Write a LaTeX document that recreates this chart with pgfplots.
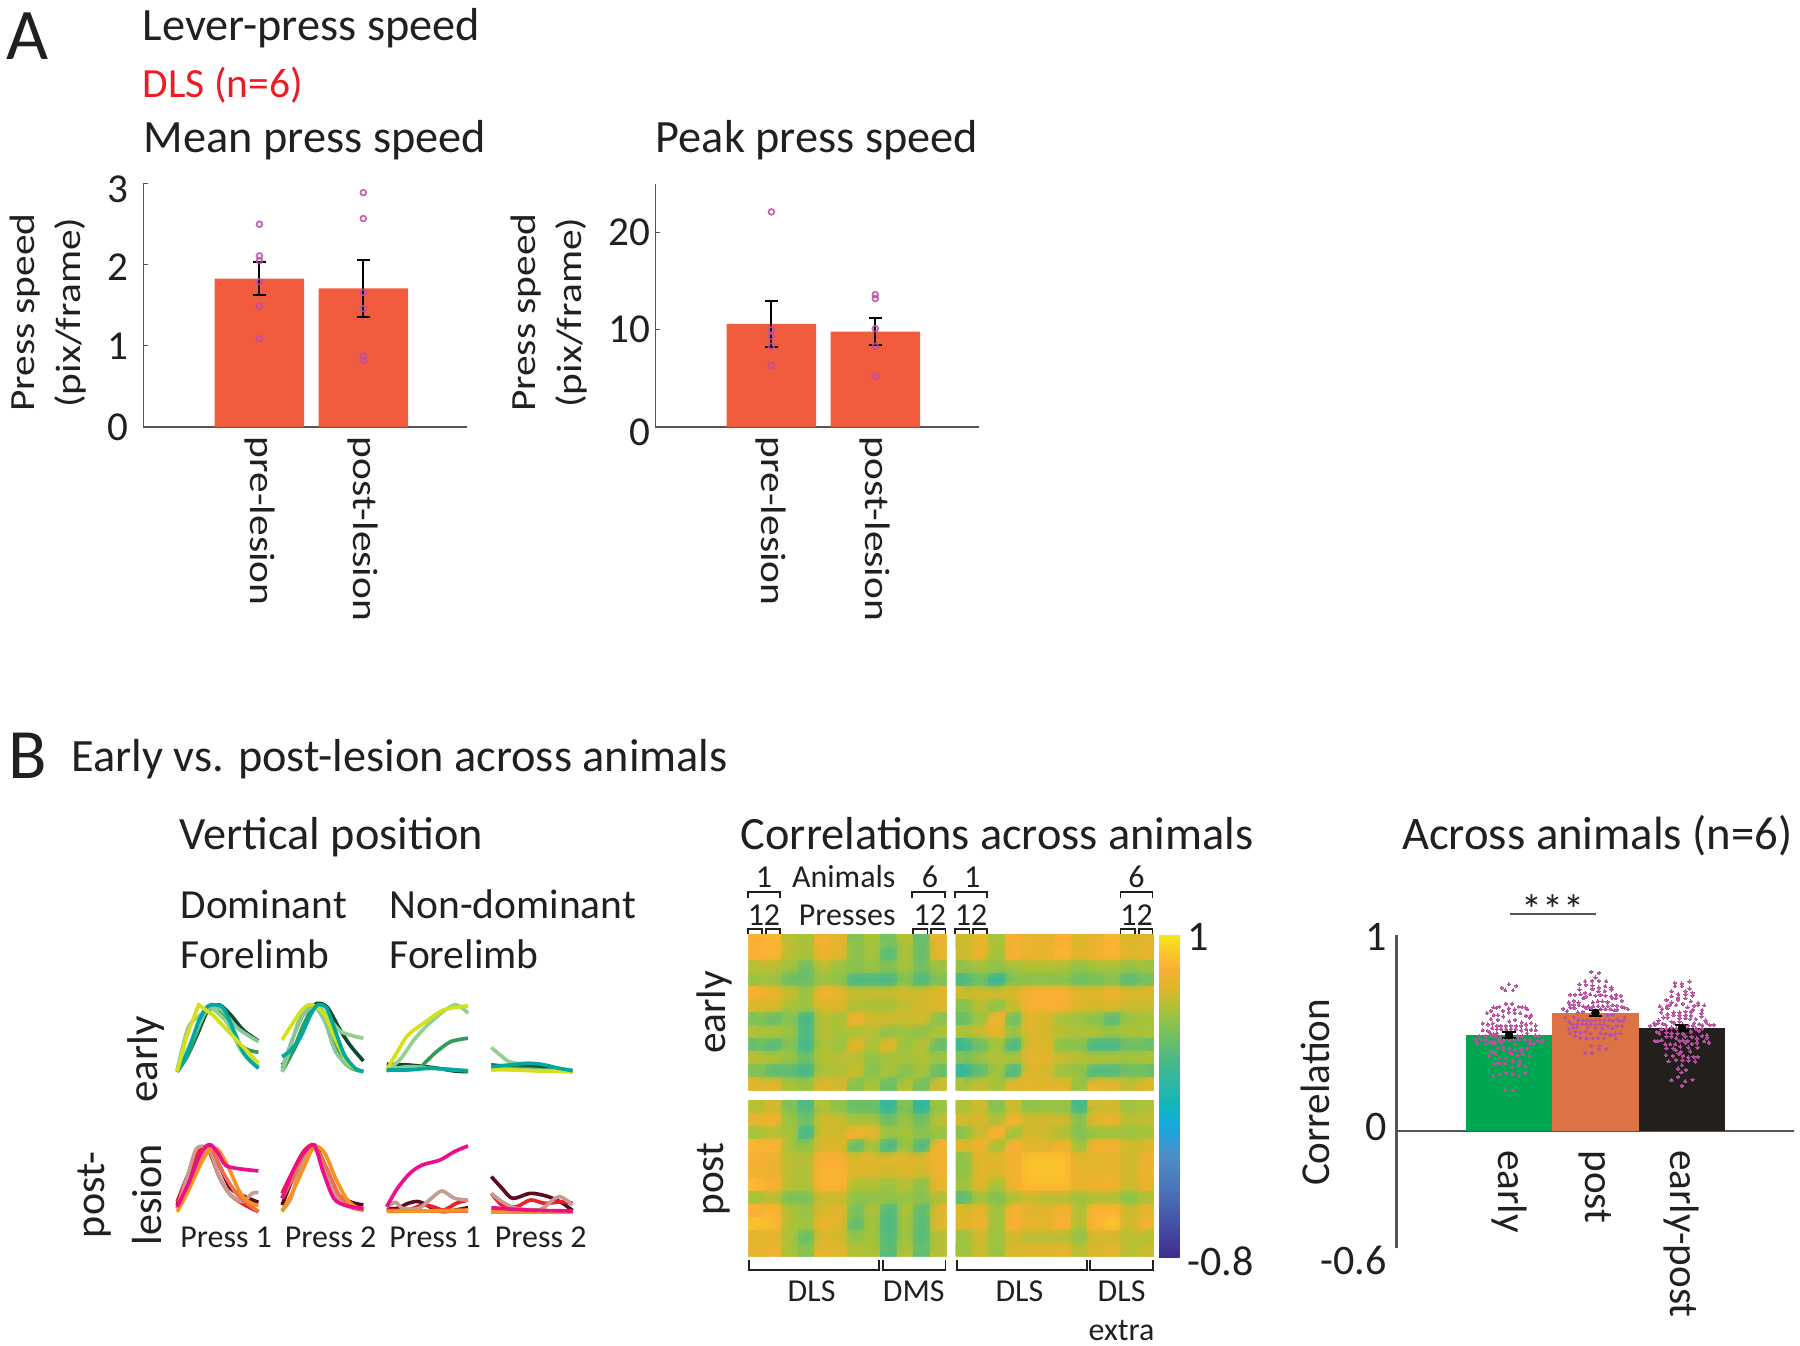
\documentclass[border=0pt]{standalone}
\usepackage{pgfplots}
\usepackage{pgfplotstable}
\usepackage{fontspec}
\setmainfont{Carlito}
\pgfplotsset{compat=1.18}
\definecolor{txt}{HTML}{231F20}
\definecolor{axl}{HTML}{555555}
\definecolor{barred}{HTML}{F15C3F}
\definecolor{dotp}{HTML}{BC4FA8}
\definecolor{swarmc}{HTML}{B8529F}
\definecolor{e1}{HTML}{0C4A2A}\definecolor{e2}{HTML}{2E9E57}\definecolor{e3}{HTML}{93CF8F}
\definecolor{e4}{HTML}{86C79A}\definecolor{e5}{HTML}{00A8A0}\definecolor{e6}{HTML}{D4E01A}
\definecolor{p1}{HTML}{5C0B20}\definecolor{p2}{HTML}{ED2024}\definecolor{p3}{HTML}{C79A92}
\definecolor{p4}{HTML}{F26D50}\definecolor{p5}{HTML}{F7941E}\definecolor{p6}{HTML}{EC0F8C}
\newcommand{\wide}[1]{\scalebox{1.17}[1]{#1}}
\newcommand{\fs}[1]{\fontsize{#1}{#1}\selectfont}
\newcommand{\low}[2]{\raisebox{#1}[\height][\depth]{#2}}
\newcommand{\T}[4]{\node[anchor=base west,inner sep=0pt,text=txt] at (#1*0.6pt,-#2*0.6pt) {\fs{#3}#4};}
\newcommand{\TC}[4]{\node[anchor=base,inner sep=0pt,text=txt] at (#1*0.6pt,-#2*0.6pt) {\fs{#3}#4};}
\newcommand{\TR}[4]{\node[anchor=center,rotate=90,inner sep=0pt,text=txt] at (#1*0.6pt,-#2*0.6pt) {\fs{#3}#4};}
\newcommand{\brd}[3]{\draw[line width=0.9pt,color=txt] (#1*0.6pt,-#3*0.6pt-3pt) -- ++(0,3pt) -- (#2*0.6pt,-#3*0.6pt) -- ++(0,-3pt);}
\newcommand{\bru}[3]{\draw[line width=0.9pt,color=txt] (#1*0.6pt,-#3*0.6pt+5pt) -- ++(0,-5pt) -- (#2*0.6pt,-#3*0.6pt) -- ++(0,5pt);}
\pgfplotsset{
  barax/.style={scale only axis,width=169.2pt,height=127.2pt,anchor=south west,
    axis lines=left,axis line style={-,draw=axl,line width=1pt},enlargelimits=false,
    xmin=-0.116,xmax=3.0,xtick={1,2},xticklabels={\wide{pre-lesion},\wide{post-lesion}},
    tick align=inside,tick style={draw=axl,line width=0.6pt},major tick length=2.5pt,
    xticklabel style={rotate=-90,anchor=west,inner sep=0pt,font=\fs{18.5},text=txt},
    xticklabel shift=5pt,
    yticklabel style={font=\fs{21.5},text=txt,inner sep=0pt},
    ymin=0,clip=false,every axis title shift=0pt},
  redbar/.style={ybar,bar shift=0pt,bar width=0.862,fill=barred,draw=none,
    error bars/.cd,y dir=both,y explicit,error bar style={black,line width=1pt},
    error mark options={rotate=90,black,mark size=3.3pt,line width=1pt}},
  opendots/.style={only marks,mark=o,mark size=1.5pt,mark options={draw=dotp,line width=0.95pt,draw opacity=0.85}},
  mini/.style={scale only axis,width=42.5pt,height=34.9pt,anchor=south west,hide axis,
    xmin=0,xmax=228,ymin=0,ymax=200,clip=false,every axis plot/.append style={line width=1.9pt,smooth,no marks,tension=0.5}},
  heat/.style={scale only axis,width=103.6pt,height=81.6pt,anchor=south west,hide axis,
    xmin=-0.5,xmax=11.5,ymin=-0.5,ymax=11.5,y dir=reverse,enlargelimits=false,
    colormap={hm}{rgb255(0cm)=(61,45,145);rgb255(0.32cm)=(74,105,178);rgb255(0.56cm)=(78,141,201);
      rgb255(0.73cm)=(26,167,223);rgb255(0.84cm)=(16,181,192);rgb255(1.08cm)=(69,184,140);
      rgb255(1.25cm)=(118,193,95);rgb255(1.38cm)=(166,195,58);rgb255(1.5cm)=(220,183,42);
      rgb255(1.62cm)=(251,176,52);rgb255(1.8cm)=(245,230,28)},
    point meta min=-0.8,point meta max=1},
  hplot/.style={matrix plot*,mesh/cols=12,point meta=explicit},
  hsoft/.style={surf,shader=interp,mesh/cols=12,point meta=explicit,opacity=0.55},
  table/htab/.style={x index=0,y index=0,x expr={mod(\coordindex,12)},y expr={floor((\coordindex+0.5)/12)},meta index=0},
  swarm/.style={only marks,mark=*,mark size=0.85pt,color=swarmc,mark options={fill=swarmc,draw=swarmc,line width=0pt}}
}
\newcommand{\mini}[3]{\begin{axis}[mini,at={(#1*0.6pt,-#2*0.6pt)}]#3\end{axis}}
% correlation matrices, row after row, 12 columns each
\pgfplotstableread[row sep=\\,header=false]{
0.82\\ 0.84\\ 0.62\\ 0.58\\ 0.78\\ 0.72\\ 0.50\\ 0.58\\ 0.45\\ 0.60\\ 0.40\\ 0.75\\
0.82\\ 0.84\\ 0.62\\ 0.58\\ 0.78\\ 0.72\\ 0.50\\ 0.58\\ 0.35\\ 0.60\\ 0.38\\ 0.75\\
0.62\\ 0.62\\ 0.55\\ 0.42\\ 0.62\\ 0.55\\ 0.50\\ 0.55\\ 0.48\\ 0.58\\ 0.42\\ 0.55\\
0.55\\ 0.55\\ 0.42\\ 0.42\\ 0.55\\ 0.52\\ 0.30\\ 0.32\\ 0.30\\ 0.50\\ 0.32\\ 0.48\\
0.80\\ 0.76\\ 0.66\\ 0.55\\ 0.80\\ 0.74\\ 0.65\\ 0.66\\ 0.66\\ 0.68\\ 0.68\\ 0.72\\
0.70\\ 0.70\\ 0.58\\ 0.55\\ 0.70\\ 0.70\\ 0.60\\ 0.58\\ 0.58\\ 0.65\\ 0.68\\ 0.70\\
0.48\\ 0.40\\ 0.50\\ 0.28\\ 0.62\\ 0.58\\ 0.78\\ 0.68\\ 0.68\\ 0.66\\ 0.68\\ 0.52\\
0.60\\ 0.60\\ 0.55\\ 0.30\\ 0.62\\ 0.58\\ 0.60\\ 0.62\\ 0.52\\ 0.55\\ 0.52\\ 0.60\\
0.42\\ 0.35\\ 0.50\\ 0.27\\ 0.60\\ 0.55\\ 0.72\\ 0.60\\ 0.72\\ 0.55\\ 0.62\\ 0.42\\
0.62\\ 0.60\\ 0.55\\ 0.42\\ 0.62\\ 0.62\\ 0.62\\ 0.52\\ 0.58\\ 0.58\\ 0.60\\ 0.55\\
0.48\\ 0.36\\ 0.36\\ 0.28\\ 0.60\\ 0.60\\ 0.66\\ 0.50\\ 0.58\\ 0.50\\ 0.58\\ 0.42\\
0.72\\ 0.72\\ 0.58\\ 0.55\\ 0.70\\ 0.68\\ 0.50\\ 0.58\\ 0.42\\ 0.60\\ 0.45\\ 0.66\\
}\hma
\pgfplotstableread[row sep=\\,header=false]{
0.66\\ 0.74\\ 0.58\\ 0.80\\ 0.76\\ 0.74\\ 0.82\\ 0.70\\ 0.76\\ 0.84\\ 0.70\\ 0.72\\
0.66\\ 0.76\\ 0.56\\ 0.82\\ 0.76\\ 0.76\\ 0.84\\ 0.72\\ 0.78\\ 0.84\\ 0.72\\ 0.74\\
0.52\\ 0.56\\ 0.52\\ 0.56\\ 0.60\\ 0.60\\ 0.58\\ 0.52\\ 0.56\\ 0.58\\ 0.52\\ 0.55\\
0.32\\ 0.42\\ 0.22\\ 0.50\\ 0.50\\ 0.50\\ 0.50\\ 0.42\\ 0.45\\ 0.50\\ 0.36\\ 0.45\\
0.66\\ 0.68\\ 0.68\\ 0.70\\ 0.82\\ 0.82\\ 0.82\\ 0.72\\ 0.72\\ 0.78\\ 0.70\\ 0.70\\
0.50\\ 0.62\\ 0.52\\ 0.66\\ 0.80\\ 0.80\\ 0.80\\ 0.70\\ 0.68\\ 0.70\\ 0.66\\ 0.66\\
0.42\\ 0.56\\ 0.80\\ 0.42\\ 0.72\\ 0.68\\ 0.58\\ 0.55\\ 0.50\\ 0.36\\ 0.55\\ 0.58\\
0.60\\ 0.66\\ 0.74\\ 0.55\\ 0.72\\ 0.68\\ 0.62\\ 0.60\\ 0.60\\ 0.55\\ 0.60\\ 0.58\\
0.26\\ 0.42\\ 0.58\\ 0.30\\ 0.70\\ 0.70\\ 0.50\\ 0.50\\ 0.30\\ 0.30\\ 0.42\\ 0.42\\
0.48\\ 0.55\\ 0.62\\ 0.58\\ 0.74\\ 0.72\\ 0.66\\ 0.62\\ 0.60\\ 0.60\\ 0.58\\ 0.58\\
0.22\\ 0.38\\ 0.56\\ 0.30\\ 0.72\\ 0.68\\ 0.55\\ 0.52\\ 0.32\\ 0.32\\ 0.42\\ 0.42\\
0.58\\ 0.64\\ 0.58\\ 0.72\\ 0.72\\ 0.72\\ 0.72\\ 0.55\\ 0.74\\ 0.72\\ 0.64\\ 0.70\\
}\hmb
\pgfplotstableread[row sep=\\,header=false]{
0.62\\ 0.68\\ 0.48\\ 0.32\\ 0.60\\ 0.52\\ 0.42\\ 0.42\\ 0.22\\ 0.48\\ 0.20\\ 0.55\\
0.74\\ 0.78\\ 0.55\\ 0.42\\ 0.68\\ 0.66\\ 0.58\\ 0.58\\ 0.42\\ 0.55\\ 0.42\\ 0.62\\
0.58\\ 0.62\\ 0.58\\ 0.28\\ 0.68\\ 0.68\\ 0.80\\ 0.74\\ 0.55\\ 0.58\\ 0.50\\ 0.55\\
0.84\\ 0.84\\ 0.58\\ 0.52\\ 0.70\\ 0.70\\ 0.38\\ 0.58\\ 0.30\\ 0.55\\ 0.32\\ 0.78\\
0.80\\ 0.76\\ 0.62\\ 0.62\\ 0.82\\ 0.82\\ 0.70\\ 0.72\\ 0.72\\ 0.72\\ 0.70\\ 0.78\\
0.78\\ 0.76\\ 0.62\\ 0.60\\ 0.83\\ 0.83\\ 0.70\\ 0.70\\ 0.68\\ 0.70\\ 0.68\\ 0.78\\
0.85\\ 0.82\\ 0.62\\ 0.60\\ 0.83\\ 0.83\\ 0.60\\ 0.60\\ 0.55\\ 0.62\\ 0.50\\ 0.75\\
0.58\\ 0.62\\ 0.46\\ 0.46\\ 0.66\\ 0.66\\ 0.52\\ 0.52\\ 0.52\\ 0.55\\ 0.50\\ 0.60\\
0.82\\ 0.84\\ 0.60\\ 0.55\\ 0.70\\ 0.72\\ 0.45\\ 0.60\\ 0.32\\ 0.60\\ 0.36\\ 0.72\\
0.88\\ 0.86\\ 0.60\\ 0.56\\ 0.76\\ 0.72\\ 0.38\\ 0.58\\ 0.30\\ 0.58\\ 0.34\\ 0.72\\
0.72\\ 0.74\\ 0.58\\ 0.40\\ 0.70\\ 0.68\\ 0.52\\ 0.58\\ 0.32\\ 0.58\\ 0.34\\ 0.62\\
0.74\\ 0.78\\ 0.58\\ 0.50\\ 0.74\\ 0.72\\ 0.60\\ 0.60\\ 0.34\\ 0.60\\ 0.38\\ 0.62\\
}\hmc
\pgfplotstableread[row sep=\\,header=false]{
0.60\\ 0.66\\ 0.50\\ 0.66\\ 0.52\\ 0.54\\ 0.54\\ 0.30\\ 0.66\\ 0.68\\ 0.56\\ 0.60\\
0.68\\ 0.70\\ 0.60\\ 0.78\\ 0.68\\ 0.68\\ 0.68\\ 0.50\\ 0.72\\ 0.76\\ 0.62\\ 0.64\\
0.52\\ 0.66\\ 0.82\\ 0.56\\ 0.68\\ 0.66\\ 0.60\\ 0.48\\ 0.55\\ 0.56\\ 0.55\\ 0.58\\
0.70\\ 0.78\\ 0.58\\ 0.82\\ 0.72\\ 0.72\\ 0.78\\ 0.56\\ 0.80\\ 0.80\\ 0.68\\ 0.70\\
0.52\\ 0.72\\ 0.72\\ 0.78\\ 0.88\\ 0.88\\ 0.88\\ 0.72\\ 0.72\\ 0.74\\ 0.66\\ 0.76\\
0.52\\ 0.72\\ 0.70\\ 0.80\\ 0.88\\ 0.88\\ 0.88\\ 0.74\\ 0.74\\ 0.76\\ 0.66\\ 0.76\\
0.56\\ 0.72\\ 0.58\\ 0.78\\ 0.86\\ 0.86\\ 0.86\\ 0.74\\ 0.78\\ 0.78\\ 0.66\\ 0.74\\
0.38\\ 0.56\\ 0.48\\ 0.60\\ 0.66\\ 0.62\\ 0.62\\ 0.55\\ 0.60\\ 0.60\\ 0.50\\ 0.60\\
0.70\\ 0.76\\ 0.55\\ 0.82\\ 0.72\\ 0.72\\ 0.80\\ 0.60\\ 0.84\\ 0.84\\ 0.66\\ 0.74\\
0.72\\ 0.78\\ 0.55\\ 0.82\\ 0.74\\ 0.74\\ 0.82\\ 0.60\\ 0.84\\ 0.90\\ 0.66\\ 0.78\\
0.56\\ 0.68\\ 0.55\\ 0.68\\ 0.62\\ 0.62\\ 0.62\\ 0.52\\ 0.68\\ 0.68\\ 0.62\\ 0.62\\
0.56\\ 0.66\\ 0.55\\ 0.70\\ 0.72\\ 0.72\\ 0.74\\ 0.62\\ 0.70\\ 0.74\\ 0.62\\ 0.66\\
}\hmd
% swarm points as read in the reference, in zoomed image pixels: column, row
\pgfplotstableread[row sep=\\,header=false]{
146 66\\ 168 71\\ 124 77\\ 135 84\\ 158 84\\ 137 124\\ 155 124\\ 99 135\\ 108 136\\ 117 133\\ 175 133\\ 185 135\\ 195 135\\ 201 140\\ 145 138\\ 128 145\\ 92 145\\ 80 152\\ 146 150\\ 163 141\\ 163 152\\ 180 152\\ 113 158\\ 100 158\\ 129 162\\ 197 160\\ 212 159\\ 208 165\\
92 170\\ 112 172\\ 147 177\\ 165 172\\ 184 180\\ 67 183\\ 83 186\\ 97 183\\ 197 186\\ 212 182\\ 226 189\\ 110 190\\ 122 190\\ 136 190\\ 151 190\\ 168 190\\ 183 190\\
67 203\\ 82 205\\ 96 197\\ 110 200\\ 123 200\\ 138 200\\ 152 200\\ 166 200\\ 198 200\\ 212 202\\ 226 203\\ 183 204\\ 90 212\\ 100 215\\ 110 212\\ 200 212\\ 58 222\\ 76 222\\ 92 220\\ 106 222\\ 120 225\\ 172 222\\ 225 219\\ 236 221\\ 186 222\\
46 230\\ 64 232\\ 78 232\\ 90 238\\ 50 240\\ 76 243\\ 96 242\\ 104 240\\ 115 233\\ 130 233\\ 145 232\\ 160 232\\ 175 232\\ 195 232\\ 210 232\\ 232 235\\ 248 232\\ 208 242\\ 222 244\\ 244 240\\ 165 245\\ 122 240\\
100 267\\ 129 253\\ 147 257\\ 182 256\\ 201 259\\ 113 257\\ 129 262\\ 165 262\\ 183 265\\ 92 267\\ 105 272\\ 150 270\\ 155 274\\ 172 278\\ 189 275\\ 86 280\\ 208 280\\
118 287\\ 137 287\\ 113 300\\ 100 303\\ 135 302\\ 157 295\\ 180 295\\ 176 304\\ 118 302\\ 155 314\\ 175 308\\ 195 312\\ 137 331\\ 118 335\\ 99 339\\ 157 335\\ 175 339\\ 195 331\\ 135 382\\ 158 382\\
}\swearly
\pgfplotstableread[row sep=\\,header=false]{
123 29\\ 146 32\\ 135 46\\ 104 57\\ 125 56\\ 145 56\\ 167 57\\ 87 66\\ 106 68\\ 126 70\\ 145 76\\ 164 72\\ 183 75\\ 87 82\\ 126 80\\ 144 87\\ 163 87\\ 183 82\\
59 97\\ 74 97\\ 90 96\\ 104 92\\ 119 96\\ 135 100\\ 150 98\\ 165 100\\ 182 102\\ 197 98\\ 211 100\\ 107 103\\ 98 108\\ 196 108\\ 185 107\\
70 115\\ 55 120\\ 84 120\\ 127 120\\ 142 117\\ 156 117\\ 171 119\\ 214 115\\ 199 130\\ 58 127\\ 70 127\\ 85 128\\ 99 132\\ 113 132\\ 128 132\\ 143 131\\ 157 131\\ 172 131\\ 186 128\\ 214 133\\ 222 136\\ 232 140\\ 38 139\\ 60 136\\ 72 137\\ 108 137\\ 122 138\\ 200 142\\ 192 144\\ 50 146\\ 82 150\\ 97 148\\ 180 140\\ 165 140\\ 150 140\\
186 157\\ 171 158\\ 45 165\\ 70 164\\ 224 164\\ 200 170\\ 55 176\\ 84 173\\ 98 173\\ 110 173\\ 122 175\\ 135 173\\ 148 173\\ 162 173\\ 176 173\\ 188 175\\ 205 175\\ 217 175\\ 60 182\\ 68 185\\ 80 185\\ 95 185\\ 108 185\\ 122 185\\ 135 187\\ 148 185\\ 160 185\\ 172 190\\ 200 190\\ 214 190\\ 68 195\\ 80 195\\ 112 195\\ 135 195\\ 155 198\\ 186 197\\ 55 199\\
75 208\\ 90 210\\ 105 208\\ 120 214\\ 150 212\\ 165 214\\ 180 215\\ 195 213\\ 210 212\\ 59 212\\ 74 220\\ 90 226\\ 108 227\\ 128 227\\ 143 227\\ 160 227\\ 180 220\\ 196 228\\ 123 250\\ 147 250\\ 145 259\\ 167 259\\ 104 271\\ 125 271\\
}\swpost
\pgfplotstableread[row sep=\\,header=false]{
176 58\\ 132 62\\ 153 64\\ 132 72\\ 153 72\\ 176 79\\ 122 87\\ 142 96\\ 164 87\\ 185 92\\ 164 96\\ 185 100\\ 122 102\\ 142 106\\ 164 108\\ 107 113\\ 142 113\\ 122 120\\ 180 117\\ 202 122\\ 220 129\\ 118 127\\ 136 128\\ 156 124\\ 87 132\\ 108 132\\ 170 135\\ 190 130\\ 202 128\\ 94 140\\ 186 142\\ 110 138\\ 214 143\\ 91 150\\ 128 150\\ 146 150\\ 164 148\\ 180 148\\ 212 152\\ 110 155\\ 128 158\\ 146 158\\ 164 158\\ 180 160\\ 98 165\\ 110 165\\ 146 167\\ 164 167\\ 212 162\\ 224 174\\ 195 170\\ 178 170\\ 83 174\\ 70 182\\ 82 182\\ 96 184\\ 122 178\\ 58 190\\ 72 187\\ 105 188\\ 130 181\\ 146 178\\ 190 182\\ 205 185\\ 214 188\\ 226 180\\ 236 187\\ 249 187\\ 155 186\\ 172 190\\ 186 190\\
78 208\\ 92 200\\ 107 198\\ 122 195\\ 136 198\\ 195 198\\ 214 198\\ 85 213\\ 107 210\\ 122 212\\ 140 213\\ 156 213\\ 180 207\\ 205 205\\ 228 218\\ 107 222\\ 122 222\\ 136 227\\ 164 222\\ 182 223\\ 198 228\\ 214 220\\ 228 225\\ 72 235\\ 80 236\\ 92 233\\ 146 235\\ 156 233\\ 170 235\\ 220 236\\ 234 240\\ 198 240\\ 183 244\\ 164 240\\ 103 245\\ 118 245\\ 133 245\\ 148 252\\ 172 255\\ 200 255\\ 107 257\\ 127 258\\ 135 263\\ 150 268\\ 178 267\\ 143 274\\ 105 278\\ 126 280\\ 157 280\\ 188 283\\ 200 283\\ 172 284\\ 135 292\\ 113 296\\ 155 293\\ 173 294\\ 193 297\\ 153 308\\ 142 318\\ 165 322\\ 152 329\\ 142 343\\ 122 352\\ 185 351\\ 163 356\\ 153 369\\
}\swboth
\begin{document}
\begin{tikzpicture}
\path[use as bounding box] (0,0) rectangle (940.8pt,-703.2pt);
% ---------- texts
\T{5}{52}{38}{A}
\T{124}{35}{24.2}{Lever-press speed}
\T{124}{85}{21.7}{\textcolor[HTML]{ED1C24}{DLS (n=6)}}
\T{7}{678}{37}{B}
\T{62}{672}{24.2}{Early vs. post-lesion across animals}
\T{156}{740}{24.2}{Vertical position}
\T{157}{800}{21.6}{Dominant}
\T{157}{844}{21.6}{Forelimb}
\T{339}{800}{21.7}{Non-dominant}
\T{339}{844}{21.7}{Forelimb}
\T{645}{740}{24.2}{Correlations across animals}
\T{1221}{740}{24.4}{Across animals (n=6)}
% ---------- panel A
\begin{axis}[barax,at={(125*0.6pt,-372*0.6pt)},ymax=3,ytick={0,1,2,3},yticklabels={0,1,\low{-1pt}{2},\low{-3pt}{3}},
  yticklabel shift=7.5pt,
  ylabel={\wide{Press speed}\\\wide{(pix/frame)}},
  every axis y label/.style={at={(axis description cs:-0.294,0.47)},rotate=90,anchor=center,align=center,font=\fontsize{18.5}{24}\selectfont,text=txt},
  title={Mean press speed},title style={at={(axis description cs:0,1.127)},anchor=base west,inner sep=0pt,font=\fs{24.2},text=txt}]
\addplot[redbar] coordinates {(1,1.83) +- (0,0.2) (2,1.71) +- (0,0.35)};
\addplot[opendots] coordinates {(1,2.5)(1,2.11)(1,2.05)(1,1.79)(1,1.49)(1,1.09)(2,2.89)(2,2.57)(2,1.66)(2,1.46)(2,0.875)(2,0.825)};
\end{axis}
\begin{axis}[barax,at={(571*0.6pt,-372*0.6pt)},ymax=25,ytick={0,10,20},yticklabels={\low{-3pt}{0},10,20},
  yticklabel shift=2.5pt,
  ylabel={\wide{Press speed}\\\wide{(pix/frame)}},
  every axis y label/.style={at={(axis description cs:-0.33,0.47)},rotate=90,anchor=center,align=center,font=\fontsize{18.5}{24}\selectfont,text=txt},
  title={Peak press speed},title style={at={(axis description cs:0,1.127)},anchor=base west,inner sep=0pt,font=\fs{24.2},text=txt}]
\addplot[redbar] coordinates {(1,10.6) +- (0,2.35) (2,9.8) +- (0,1.375)};
\addplot[opendots] coordinates {(1,22.1)(1,10)(1,9.3)(1,8.3)(1,6.3)(2,13.6)(2,13.2)(2,10.1)(2,8.3)(2,5.2)};
\end{axis}
% ---------- vertical position traces
\TR{127}{923}{22.5}{early}
\TR{82}{1041}{22}{post-}
\TR{128}{1041}{22}{lesion}
\TC{197}{1087}{16.7}{Press 1}
\TC{288}{1087}{16.7}{Press 2}
\TC{379}{1087}{16.7}{Press 1}
\TC{471}{1087}{16.7}{Press 2}
\mini{154.3}{933.5}{
\addplot[e1] coordinates {(0,0)(30,50)(60,120)(85,180)(118,200)(150,170)(185,125)(228,92)};
\addplot[e2] coordinates {(0,0)(30,50)(60,130)(85,190)(110,195)(140,150)(170,85)(200,65)(228,58)};
\addplot[e3] coordinates {(0,5)(30,130)(60,165)(90,190)(120,170)(150,130)(175,70)(200,40)(228,15)};
\addplot[e4] coordinates {(0,0)(40,90)(75,170)(100,195)(130,180)(170,130)(228,90)};
\addplot[e5] coordinates {(0,0)(30,60)(60,150)(85,195)(105,200)(130,190)(160,120)(190,50)(228,10)};
\addplot[e6,sharp plot] coordinates {(0,0)(25,100)(60,200)(100,170)(140,125)(180,80)(228,25)};
}
\mini{245.7}{933.5}{
\addplot[e1] coordinates {(0,20)(30,60)(60,130)(90,200)(125,195)(160,130)(190,80)(228,32)};
\addplot[e2] coordinates {(0,0)(30,60)(60,140)(90,195)(115,180)(140,110)(165,40)(195,10)(228,0)};
\addplot[e3] coordinates {(0,0)(20,60)(50,160)(90,197)(125,170)(165,120)(228,100)};
\addplot[e4] coordinates {(0,10)(30,100)(60,170)(90,195)(120,150)(150,60)(190,15)(228,2)};
\addplot[e6] coordinates {(0,95)(30,145)(60,190)(85,200)(120,170)(150,95)(180,35)(205,10)(228,0)};
\addplot[e5] coordinates {(0,45)(20,60)(50,100)(80,170)(100,200)(125,190)(150,120)(175,50)(205,10)(228,0)};
}
\mini{336.9}{933.5}{
\addplot[e1] coordinates {(0,22)(60,20)(130,12)(190,2)(228,0)};
\addplot[e2] coordinates {(0,5)(90,15)(110,30)(140,60)(180,90)(228,100)};
\addplot[e3] coordinates {(0,0)(40,40)(80,100)(130,155)(190,200)(228,175)};
\addplot[e4] coordinates {(0,5)(60,15)(120,10)(228,3)};
\addplot[e6] coordinates {(0,5)(30,60)(60,110)(110,150)(160,185)(228,197)};
\addplot[e5] coordinates {(0,5)(60,5)(130,10)(228,2)};
}
\mini{428}{933.5}{
\addplot[e3] coordinates {(0,72)(25,50)(50,30)(100,20)(170,12)(228,3)};
\addplot[e1] coordinates {(0,20)(60,15)(130,15)(228,2)};
\addplot[e2] coordinates {(0,10)(80,10)(228,0)};
\addplot[e4] coordinates {(0,10)(100,5)(228,2)};
\addplot[e6] coordinates {(0,5)(60,5)(130,2)(228,0)};
\addplot[e5] coordinates {(0,15)(50,20)(100,25)(140,22)(190,10)(228,3)};
}
\mini{154.3}{1055.5}{
\addplot[p1] coordinates {(0,20)(30,100)(60,170)(90,195)(120,135)(150,70)(190,45)(228,28)};
\addplot[p2] coordinates {(0,30)(30,110)(60,180)(85,190)(120,100)(150,50)(190,20)(228,0)};
\addplot[p3] coordinates {(0,10)(30,110)(55,190)(90,185)(120,100)(150,50)(185,30)(210,55)(228,57)};
\addplot[p4] coordinates {(0,10)(40,85)(80,175)(100,180)(130,115)(170,50)(228,0)};
\addplot[p5] coordinates {(0,0)(30,60)(60,130)(90,185)(115,185)(145,130)(175,60)(200,30)(228,18)};
\addplot[p6] coordinates {(0,15)(30,80)(60,160)(80,195)(95,200)(115,175)(135,140)(165,130)(228,122)};
}
\mini{245.7}{1055.5}{
\addplot[p1] coordinates {(0,20)(30,100)(60,170)(90,200)(120,140)(150,60)(190,30)(228,20)};
\addplot[p2] coordinates {(0,55)(25,110)(60,180)(90,198)(120,130)(150,50)(190,15)(228,5)};
\addplot[p3] coordinates {(0,5)(25,40)(50,130)(85,195)(120,130)(150,50)(190,15)(228,8)};
\addplot[p4] coordinates {(0,40)(30,100)(60,170)(90,195)(125,130)(160,50)(200,15)(228,8)};
\addplot[p5] coordinates {(0,0)(30,60)(60,130)(90,195)(120,175)(150,100)(180,40)(205,15)(228,10)};
\addplot[p6] coordinates {(0,40)(30,120)(60,175)(90,200)(115,120)(145,40)(180,18)(228,10)};
}
\mini{336.9}{1055.5}{
\addplot[p1] coordinates {(0,10)(30,10)(60,25)(90,30)(130,10)(160,0)(228,12)};
\addplot[p2] coordinates {(0,5)(60,5)(100,20)(130,15)(160,5)(195,25)(228,35)};
\addplot[p3] coordinates {(0,15)(25,28)(45,10)(90,10)(125,40)(155,62)(190,40)(228,35)};
\addplot[p4] coordinates {(0,2)(228,2)};
\addplot[p5] coordinates {(0,0)(228,5)};
\addplot[p6] coordinates {(0,15)(30,70)(65,115)(100,140)(150,155)(190,180)(228,197)};
}
\mini{428}{1055.5}{
\addplot[p1] coordinates {(0,105)(30,70)(60,40)(110,55)(160,45)(200,25)(228,3)};
\addplot[p2] coordinates {(0,55)(30,20)(70,15)(110,35)(150,25)(200,30)(228,25)};
\addplot[p3] coordinates {(0,55)(30,30)(70,10)(130,5)(150,15)(190,45)(228,20)};
\addplot[p4] coordinates {(0,3)(228,0)};
\addplot[p5] coordinates {(0,0)(228,0)};
\addplot[p6] coordinates {(0,12)(100,5)(228,2)};
}
% ---------- heat maps
\begin{axis}[heat,at={(651.9*0.6pt,-950.1*0.6pt)}]
\addplot[hplot] table[htab] {\hma};
\addplot[hsoft] table[htab] {\hma};
\end{axis}
\begin{axis}[heat,at={(832.5*0.6pt,-950.1*0.6pt)},colorbar,
  colorbar style={at={(1.026,1)},anchor=north west,scale only axis,width=10.8pt,height=168.6pt,
    ytick={-0.8,1},yticklabels={\low{-2pt}{-0.8},\low{-1.5pt}{1}},yticklabel pos=right,major tick length=0pt,
    axis line style={draw=none},enlargelimits=false,
    yticklabel style={font=\fs{22},text=txt,inner sep=0pt,xshift=4pt}}]
\addplot[hplot] table[htab] {\hmb};
\addplot[hsoft] table[htab] {\hmb};
\end{axis}
\begin{axis}[heat,at={(651.9*0.6pt,-1094.7*0.6pt)}]
\addplot[hplot] table[htab] {\hmc};
\addplot[hsoft] table[htab] {\hmc};
\end{axis}
\begin{axis}[heat,at={(832.5*0.6pt,-1094.7*0.6pt)}]
\addplot[hplot] table[htab] {\hmd};
\addplot[hsoft] table[htab] {\hmd};
\end{axis}
\TR{622}{882}{21.6}{early}
\TR{622}{1027}{21.6}{post}
\TC{665.5}{773}{16.7}{1}
\TC{735}{773}{16.7}{Animals}
\TC{810}{773}{16.7}{6}
\TC{847}{773}{16.7}{1}
\TC{990}{773}{16.7}{6}
\TC{665.5}{806}{16.7}{12}
\TC{738}{806}{16.7}{Presses}
\TC{810}{806}{16.7}{12}
\TC{846}{806}{16.7}{12}
\TC{990}{806}{16.7}{12}
\brd{651.4}{679.6}{777}\brd{794.5}{823}{777}\brd{832}{859.6}{777}\brd{976}{1004}{777}
\brd{651.4}{664}{809}\brd{667}{679.6}{809}
\brd{795.5}{808}{809}\brd{811}{823.5}{809}
\brd{832}{844.5}{809}\brd{847.5}{859.6}{809}
\brd{976}{989}{809}\brd{992}{1004}{809}
\bru{652.6}{766}{1106}\bru{769}{823.6}{1106}\bru{833.5}{946.6}{1106}\bru{949.6}{1004.5}{1106}
\TC{707}{1134}{16.7}{DLS}
\TC{796}{1134}{16.7}{DMS}
\TC{888}{1134}{16.7}{DLS}
\TC{977}{1134}{16.7}{DLS}
\TC{977}{1168}{16.7}{extra}
% ---------- correlation bars
\begin{axis}[scale only axis,width=207.6pt,height=163.8pt,anchor=south west,at={(1216.5*0.6pt,-1087.5*0.6pt)},
  axis x line=middle,axis y line=left,axis line style={-,draw=axl,line width=1.1pt},enlargelimits=false,
  xmin=-0.301,xmax=4.293,ymin=-0.6,ymax=1,clip=false,
  xtick={1,2,3},xticklabels={early,post,early-post},
  ytick={-0.6,0,1},yticklabels={\low{-6.3pt}{-0.6},\low{2pt}{0},\low{-1pt}{1}},
  major tick length=0pt,
  xticklabel style={rotate=-90,anchor=west,inner sep=0pt,font=\fs{21.5},text=txt},xticklabel shift=10pt,
  yticklabel style={font=\fs{22},text=txt,inner sep=0pt},yticklabel shift=5pt,
  ylabel={Correlation},
  every axis y label/.style={at={(axis description cs:-0.205,0.498)},rotate=90,anchor=center,font=\fs{21.5},text=txt}]
\addplot[ybar,bar shift=0pt,bar width=1,fill={rgb,255:red,0;green,166;blue,81},draw=none] coordinates {(1,0.489)};
\addplot[ybar,bar shift=0pt,bar width=1,fill={rgb,255:red,221;green,115;blue,68},draw=none] coordinates {(2,0.603)};
\addplot[ybar,bar shift=0pt,bar width=1,fill={rgb,255:red,34;green,31;blue,28},draw=none] coordinates {(3,0.525)};
\addplot[swarm] table[x expr={1+(\thisrowno{0}-146)/259},y expr={(504-\thisrowno{1})/585}] {\swearly};
\addplot[swarm] table[x expr={2+(\thisrowno{0}-135)/259},y expr={(504-\thisrowno{1})/585}] {\swpost};
\addplot[swarm] table[x expr={3+(\thisrowno{0}-153)/259},y expr={(504-\thisrowno{1})/585}] {\swboth};
\addplot[only marks,mark=none,error bars/.cd,y dir=both,y explicit,error bar style={black,line width=0.9pt},
   error mark options={rotate=90,black,mark size=3.5pt,line width=0.9pt}] coordinates {(1,0.489) +- (0,0.016) (2,0.603) +- (0,0.015) (3,0.525) +- (0,0.015)};
\end{axis}
\TC{1353}{805}{22}{***}
\draw[color=axl,line width=1pt] (1315*0.6pt,-796*0.6pt) -- (1390*0.6pt,-796*0.6pt);
\end{tikzpicture}
\end{document}
